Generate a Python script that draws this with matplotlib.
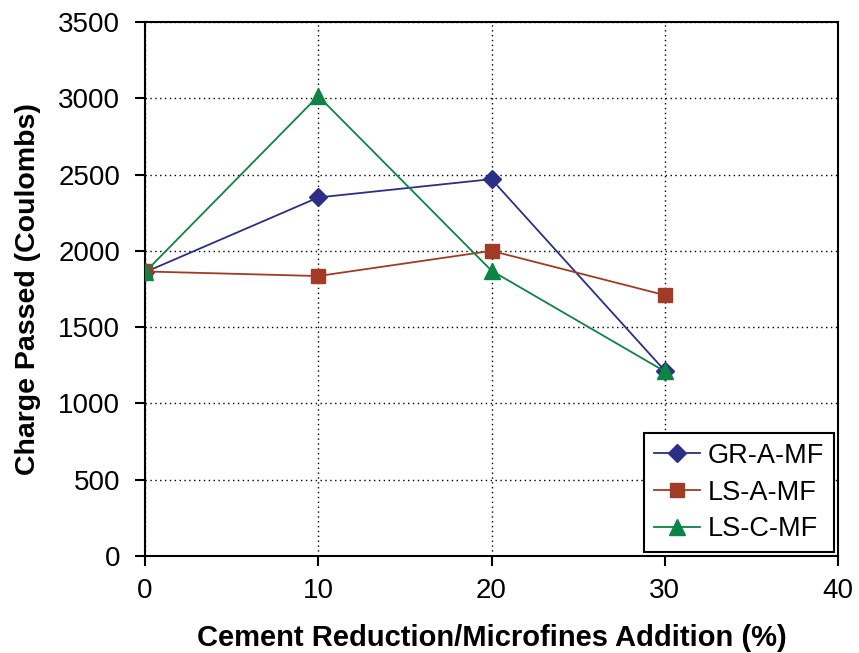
import matplotlib
matplotlib.use("Agg")
import matplotlib.pyplot as plt

plt.rcParams['font.family'] = ['Liberation Sans', 'DejaVu Sans']

x_values = [0, 10, 20, 30]
gr_a_mf = [1860, 2350, 2470, 1215]
ls_a_mf = [1865, 1835, 2000, 1710]
ls_c_mf = [1860, 3015, 1870, 1210]
series_names = ["GR-A-MF", "LS-A-MF", "LS-C-MF"]

fig = plt.figure(figsize=(8.59, 6.53), dpi=100)
ax = fig.add_axes([145/859, 97/653, 693/859, 534/653])

ax.plot(x_values, gr_a_mf, color="#2B2F85", marker="D", markersize=9, lw=1.3,
        label=series_names[0], zorder=3)
ax.plot(x_values, ls_a_mf, color="#A13B25", marker="s", markersize=9.5, lw=1.3,
        label=series_names[1], zorder=3)
ax.plot(x_values, ls_c_mf, color="#0C8443", marker="^", markersize=11, lw=1.3,
        label=series_names[2], zorder=4)

ax.set_xlim(0, 40)
ax.set_ylim(0, 3500)
ax.set_xticks([0, 10, 20, 30, 40])
ax.set_yticks(range(0, 3501, 500))
ax.grid(True, color="black", linestyle=(0, (1, 2.5)), linewidth=1.0)
ax.set_axisbelow(True)
for s in ax.spines.values():
    s.set_linewidth(1.5)
    s.set_color("black")
ax.tick_params(axis="both", direction="out", length=7, width=1.5, labelsize=20)
ax.tick_params(axis="y", pad=11)
ax.tick_params(axis="x", pad=9)

ax.set_xlabel("Cement Reduction/Microfines Addition (%)", fontsize=21,
              fontweight="bold", labelpad=14)
ax.set_ylabel("Charge Passed (Coulombs)", fontsize=20.5, fontweight="bold", labelpad=12)

leg = ax.legend(loc="lower right", fontsize=19.5, frameon=True, fancybox=False,
                edgecolor="black", framealpha=1, borderpad=0.35, handlelength=1.7,
                handletextpad=0.3, labelspacing=0.4, borderaxespad=0.15)
leg.get_frame().set_linewidth(1.5)

fig.savefig("out.png", dpi=100)
